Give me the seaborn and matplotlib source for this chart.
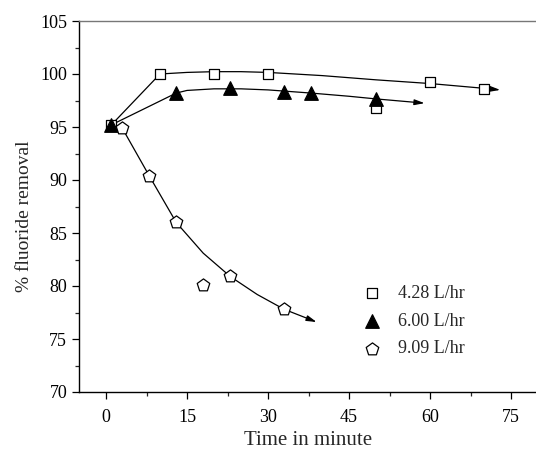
import matplotlib
matplotlib.use("Agg")
import matplotlib.pyplot as plt
import seaborn as sns
import pandas as pd
from matplotlib.ticker import MultipleLocator

# measured points
t_428 = [1, 10, 20, 30, 50, 60, 70]
r_428 = [95.2, 100.0, 100.0, 100.0, 96.8, 99.2, 98.6]
t_600 = [1, 13, 23, 33, 38, 50]
r_600 = [95.2, 98.2, 98.7, 98.3, 98.2, 97.6]
t_909 = [3, 8, 13, 18, 23, 33]
r_909 = [94.9, 90.4, 86.0, 80.1, 80.9, 77.8]

# trend curves
ct_428 = [1, 10, 15, 20, 25, 30, 40, 50, 60, 70, 73]
cr_428 = [95.2, 100.0, 100.15, 100.22, 100.22, 100.15, 99.85, 99.45, 99.1, 98.65, 98.5]
ct_600 = [1, 13, 15, 20, 25, 30, 38, 45, 50, 59]
cr_600 = [95.2, 98.2, 98.45, 98.6, 98.6, 98.5, 98.2, 97.9, 97.65, 97.25]
ct_909 = [3, 8, 13, 18, 23, 28, 33, 39]
cr_909 = [94.9, 90.4, 86.0, 83.1, 80.9, 79.2, 77.8, 76.6]

labels = ["4.28 L/hr", "6.00 L/hr", "9.09 L/hr"]

sns.set_theme(style="ticks")
plt.rcParams["font.family"] = ["Liberation Serif", "DejaVu Serif"]

fig = plt.figure(figsize=(5.36, 4.5), dpi=100)
ax = fig.add_axes([79/536, 1-392/450, 459/536, 371/450])

curves = [(ct_428, cr_428), (ct_600, cr_600), (ct_909, cr_909)]
for (ct, cr) in curves:
    cdf = pd.DataFrame({"t": ct[:-1], "r": cr[:-1]})
    sns.lineplot(data=cdf, x="t", y="r", sort=False, estimator=None, color="black",
                 lw=0.9, ax=ax, legend=False)
    ax.annotate("", xy=(ct[-1], cr[-1]), xytext=(ct[-2], cr[-2]),
                arrowprops=dict(arrowstyle="-|>,head_length=0.5,head_width=0.14",
                                color="black", lw=0.9, shrinkA=0, shrinkB=0))

df = pd.concat([
    pd.DataFrame({"t": t_428, "r": r_428, "s": labels[0]}),
    pd.DataFrame({"t": t_600, "r": r_600, "s": labels[1]}),
    pd.DataFrame({"t": t_909, "r": r_909, "s": labels[2]}),
])
styles = {labels[0]: dict(marker="s", s=62, facecolor="white"),
          labels[1]: dict(marker="^", s=95, facecolor="black"),
          labels[2]: dict(marker="p", s=90, facecolor="white")}
for lab in labels:
    sub = df[df.s == lab]
    st = styles[lab]
    sns.scatterplot(data=sub, x="t", y="r", marker=st["marker"], s=st["s"],
                    facecolor=st["facecolor"], edgecolor="black", linewidth=0.9,
                    label=lab, ax=ax, zorder=5)

ax.set_xlim(-5, 80)
ax.set_ylim(70, 105)
ax.xaxis.set_major_locator(MultipleLocator(15))
ax.xaxis.set_minor_locator(MultipleLocator(7.5))
ax.yaxis.set_major_locator(MultipleLocator(5))
ax.yaxis.set_minor_locator(MultipleLocator(2.5))
ax.tick_params(which="major", length=5, width=0.9, direction="out", labelsize=13, colors="black")
ax.tick_params(which="minor", length=3, width=0.9, direction="out")
ax.tick_params(axis="x", pad=7)
for s in ["left", "bottom"]:
    ax.spines[s].set_color("black")
    ax.spines[s].set_linewidth(1.0)
ax.spines["top"].set_color("#777777")
ax.spines["top"].set_linewidth(1.0)
ax.spines["right"].set_visible(False)
ax.set_xlabel("Time in minute", fontsize=15)
ax.set_ylabel("% fluoride removal", fontsize=14)
ax.yaxis.set_label_coords(-0.10, 0.474)
ax.xaxis.set_label_coords(0.5, -0.105)

leg = ax.legend(loc="center left", bbox_to_anchor=(0.6, 0.191), frameon=False,
                fontsize=13, handletextpad=0.8, labelspacing=0.6, borderaxespad=0,
                handlelength=1.2)

fig.savefig("out.png", dpi=100)
